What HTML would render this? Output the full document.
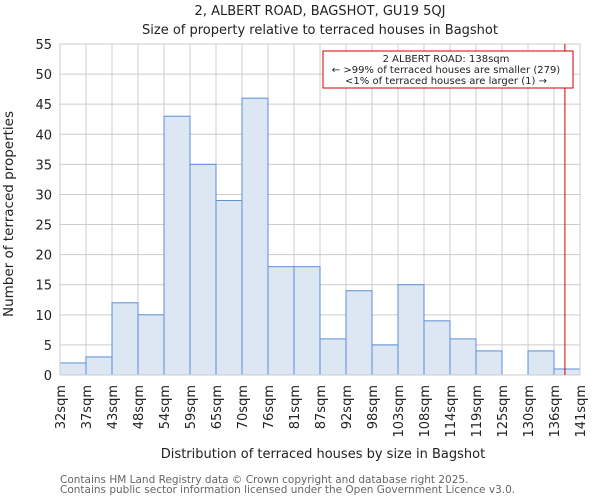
<!DOCTYPE html>
<html><head><meta charset="utf-8"><style>
body{margin:0;background:#fff;}
svg{display:block;font-family:"DejaVu Sans","Liberation Sans",sans-serif;}
</style></head><body>
<svg id="chart" width="600" height="500" xmlns="http://www.w3.org/2000/svg">
<text x="320" y="15" text-anchor="middle" font-size="13" fill="#222">2, ALBERT ROAD, BAGSHOT, GU19 5QJ</text>
<text x="320" y="34" text-anchor="middle" font-size="13" fill="#222">Size of property relative to terraced houses in Bagshot</text>
<g id="grid"></g><g id="bars"></g><g id="axes"></g>
<text x="323" y="458" text-anchor="middle" font-size="13" fill="#222">Distribution of terraced houses by size in Bagshot</text>
<text transform="translate(13,214) rotate(-90)" text-anchor="middle" font-size="13.5" fill="#222">Number of terraced properties</text>
<text x="60" y="483" font-size="10.5" fill="#666">Contains HM Land Registry data © Crown copyright and database right 2025.</text>
<text x="60" y="493" font-size="10.5" fill="#666">Contains public sector information licensed under the Open Government Licence v3.0.</text>
</svg>
<script>
const categories=["32sqm","37sqm","43sqm","48sqm","54sqm","59sqm","65sqm","70sqm","76sqm","81sqm","87sqm","92sqm","98sqm","103sqm","108sqm","114sqm","119sqm","125sqm","130sqm","136sqm","141sqm"];
const counts=[2,3,12,10,43,35,29,46,18,18,6,14,5,15,9,6,4,0,4,1];
const yTicks=[0,5,10,15,20,25,30,35,40,45,50,55];
const markerBin=19.42;
const L=60,R=580,T=44,B=375,yMax=55;
const ns="http://www.w3.org/2000/svg";
const xs=i=>L+(R-L)*i/counts.length;
const ys=v=>B-(B-T)*v/yMax;
function mk(tag,attrs,parent,txt){const e=document.createElementNS(ns,tag);for(const k in attrs)e.setAttribute(k,attrs[k]);if(txt!==undefined)e.textContent=txt;document.getElementById(parent).appendChild(e);return e;}
yTicks.forEach(v=>{
 const l=mk('line',{x1:L,x2:R,y1:ys(v),y2:ys(v),stroke:'#cccccc','stroke-width':1},'grid');
 
 
 const t=mk('text',{x:L-8,y:ys(v)+5,'text-anchor':'end','font-size':13,fill:'#222'},'axes',v);
 
 
});
categories.forEach((c,i)=>{
 const x=xs(i);
 const l=mk('line',{x1:x,x2:x,y1:T,y2:B,stroke:'#cccccc','stroke-width':1},'grid');
 
 
 const t=mk('text',{transform:`translate(${x+5},${B+10}) rotate(-90)`,'text-anchor':'end','font-size':13,fill:'#222'},'axes',c);
 
 
});
counts.forEach((v,i)=>{
 const r=mk('rect',{x:xs(i),y:ys(v),width:xs(i+1)-xs(i),height:B-ys(v),fill:'#dde6f3',stroke:'#5b8fd5','stroke-width':1},'bars');
 
 
});
const rr=mk('rect',{x:L,y:T,width:R-L,height:B-T,fill:'none',stroke:'#cccccc'},'axes');


const mx=xs(markerBin);
const ml=mk('line',{x1:mx,x2:mx,y1:T,y2:B,stroke:'#cc0000','stroke-width':1},'axes');


const box=mk('rect',{x:323,y:51,width:250,height:37,fill:'#fff',stroke:'#cc0000','stroke-width':1},'axes');


["2 ALBERT ROAD: 138sqm","← >99% of terraced houses are smaller (279)","<1% of terraced houses are larger (1) →"].forEach((s,k)=>{
 const t=mk('text',{x:446,y:62+k*11,'text-anchor':'middle','font-size':10,fill:'#222'},'axes',s);
 
 
});
</script>
</body></html>
